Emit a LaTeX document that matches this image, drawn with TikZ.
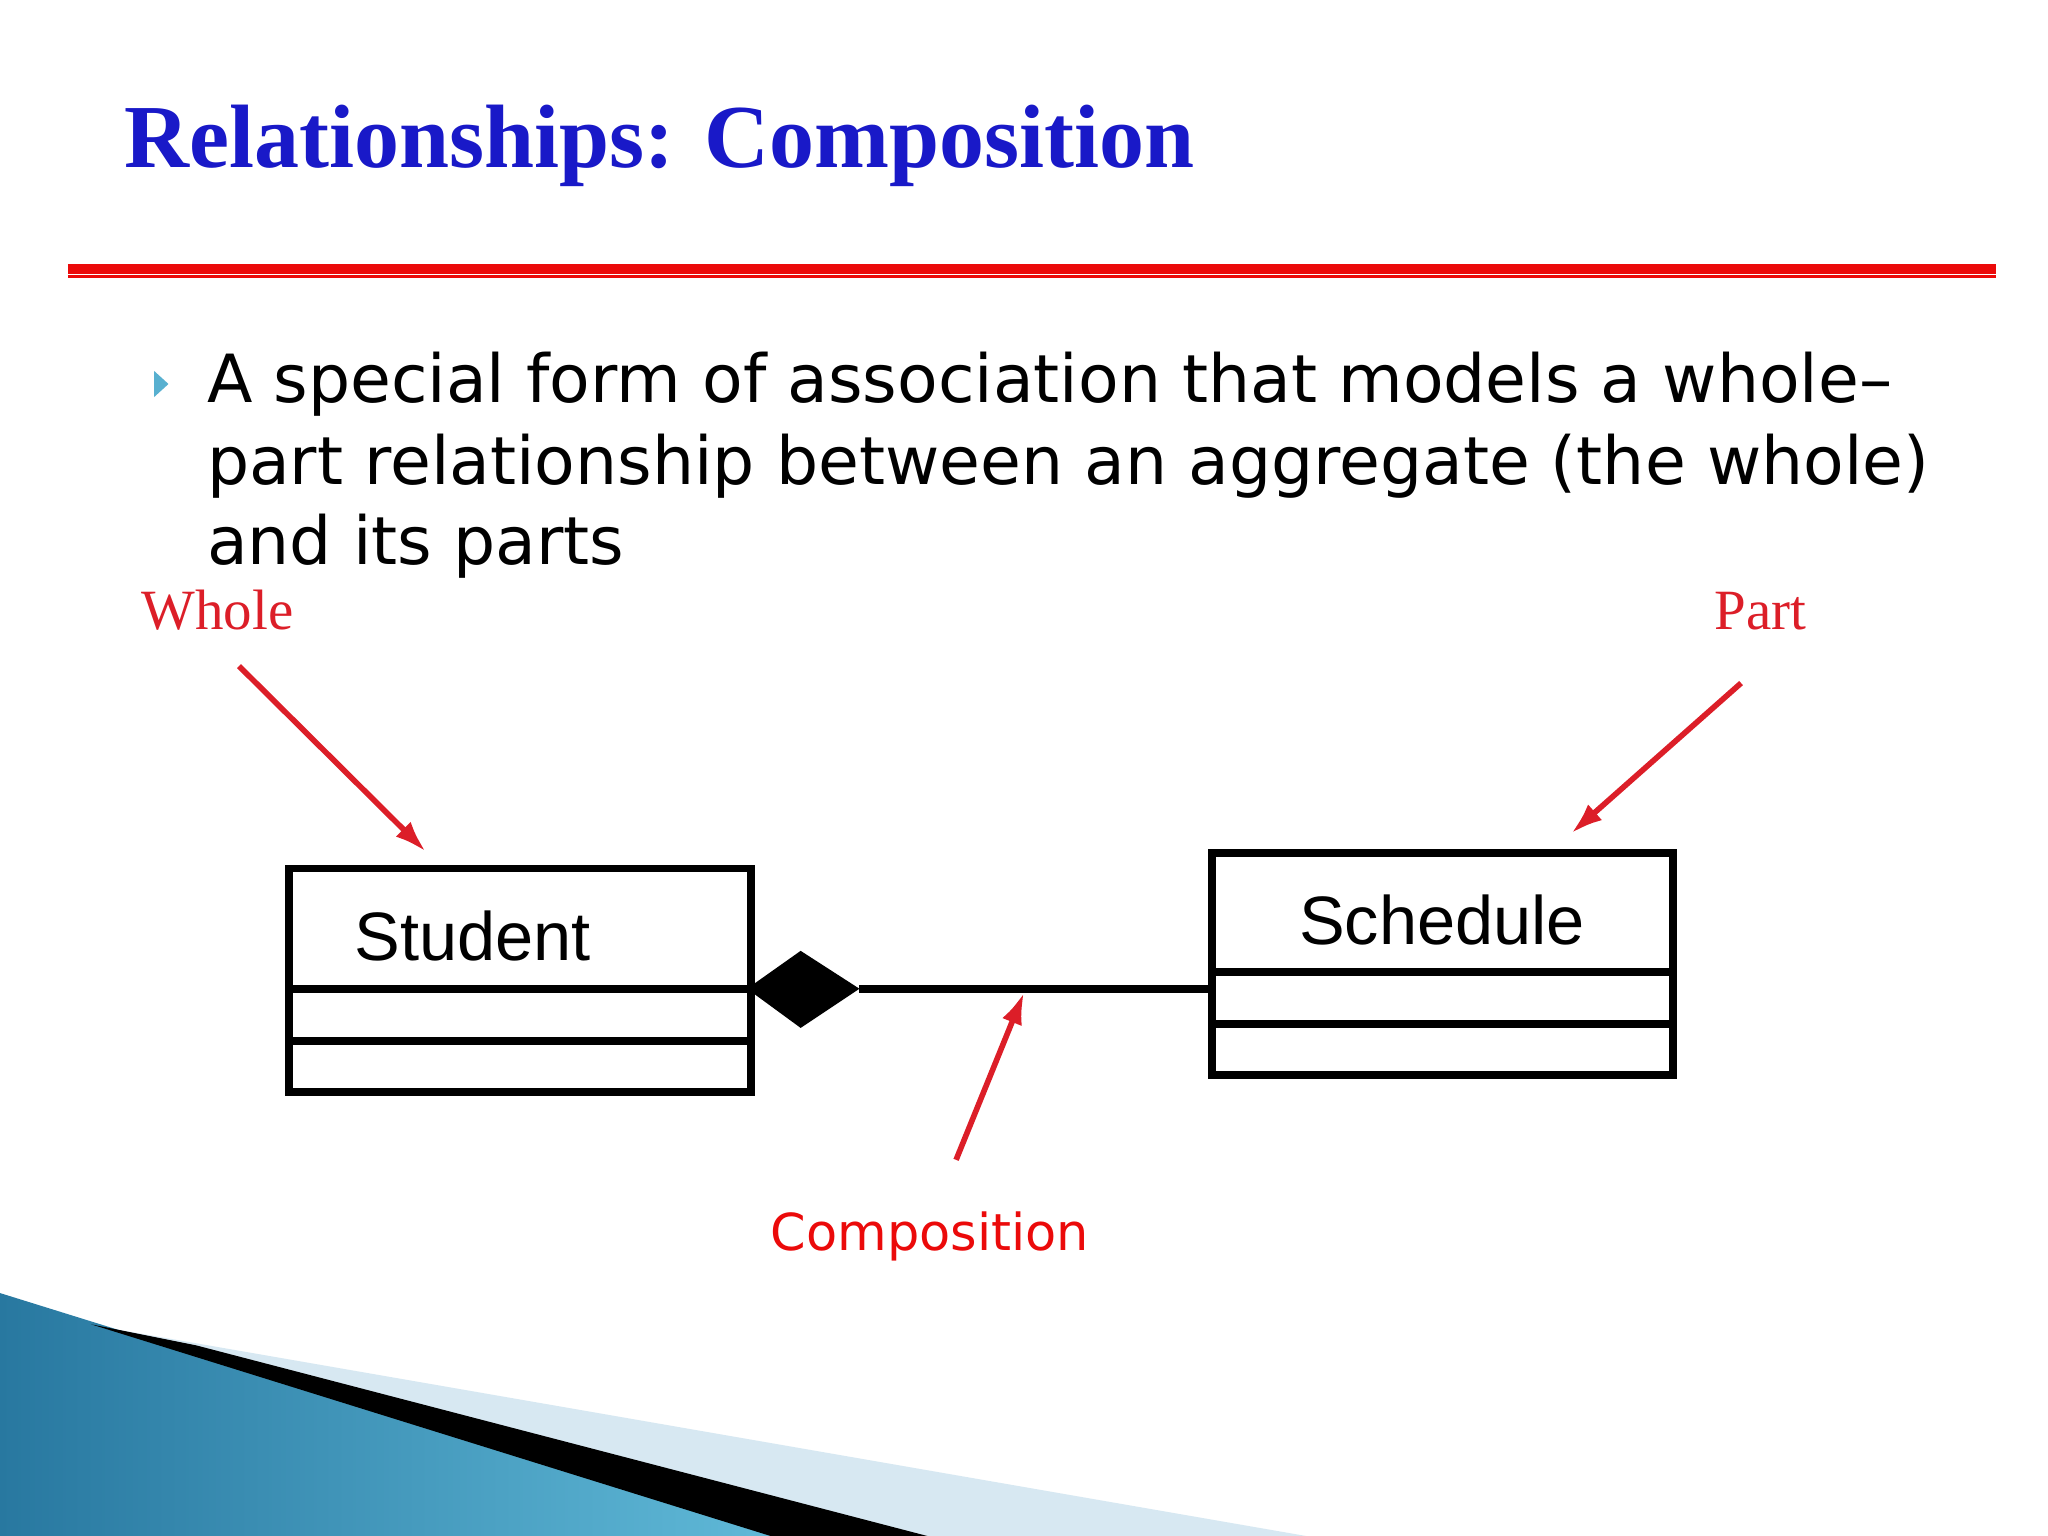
\documentclass[tikz,border=0pt]{standalone}
\usepackage{fontspec}
\setmainfont{Liberation Serif}
\newfontfamily\dvs{DejaVu Sans}
\newfontfamily\lsans{Liberation Sans}
\definecolor{ttl}{RGB}{25,25,200}
\definecolor{rd}{RGB}{220,30,40}
\definecolor{rd2}{RGB}{235,10,10}
\definecolor{tealA}{RGB}{40,120,160}
\definecolor{tealB}{RGB}{100,190,220}
\definecolor{lb}{RGB}{215,232,242}
\begin{document}
\begin{tikzpicture}[x=0.013061cm,y=-0.013061cm,
  box/.style={draw=black,line width=2.2pt},
  redarrow/.style={draw=rd,line width=1.6pt,-{Latex[length=9pt,width=6pt]}},
  lbl/.style={text=rd,inner sep=0pt}]
\usetikzlibrary{arrows.meta}
\useasboundingbox (0,0) rectangle (1568,1176);
\fill[white] (0,0) rectangle (1568,1176);
% bottom decoration
\fill[lb] (90,1018) -- (1000,1176) -- (560,1176) -- cycle;
\shade[left color=tealA,right color=tealB] (0,990) -- (90,1018) -- (640,1176) -- (0,1176) -- cycle;
\fill[black] (70,1014) -- (150,1030) -- (710,1176) -- (590,1176) -- cycle;
% title
\node[anchor=base west,inner sep=0pt,text=ttl,font=\fontsize{25.6}{30}\selectfont\bfseries] (title) at (95,128) {Relationships: Composition};
\draw[rd2,line width=2.8pt] (52,206) -- (1528,206);
\draw[rd2,line width=0.8pt] (52,212) -- (1528,212);
% bullet
\fill[tealB!80!tealA] (118,284) -- (129,294) -- (118,304) -- cycle;
\node[anchor=base west,inner sep=0pt,font=\dvs\fontsize{18.9}{24}\selectfont] (l1) at (158,308) {A special form of association that models a whole–};
\node[anchor=base west,inner sep=0pt,font=\dvs\fontsize{18.9}{24}\selectfont] (l2) at (158,371) {part relationship between an aggregate (the whole)};
\node[anchor=base west,inner sep=0pt,font=\dvs\fontsize{18.9}{24}\selectfont] (l3) at (158,432) {and its parts};
% labels
\node[lbl,anchor=base west,font=\fontsize{16.2}{20}\selectfont] (whole) at (108,482) {Whole};
\node[lbl,anchor=base west,font=\fontsize{16.2}{20}\selectfont] (part) at (1312,482) {Part};
\node[text=rd2,inner sep=0pt,font=\dvs\fontsize{14.5}{18}\selectfont] (comp) at (712,947) {Composition};
% boxes
\draw[box] (221,665) rectangle (575,836);
\draw[box] (221,757) -- (575,757);
\draw[box] (221,797) -- (575,797);
\node[font=\lsans\fontsize{19.5}{24}\selectfont] (stu) at (362,717) {Student};
\draw[box] (928,653) rectangle (1281,823);
\draw[box] (928,744) -- (1281,744);
\draw[box] (928,784) -- (1281,784);
\node[font=\lsans\fontsize{19.5}{24}\selectfont] (sch) at (1104,704) {Schedule};
\coordinate (dl) at (572,757);
\coordinate (dr) at (658,757);
\coordinate (sl) at (928,757);
\fill[black] (dl) -- (613,728) -- (dr) -- (613,787) -- cycle;
\draw[line width=2.2pt] (dr) -- (sl);
% arrows
\coordinate (w1) at (183,510); \coordinate (w2) at (326,652);
\coordinate (p1) at (1333,523); \coordinate (p2) at (1203,638);
\coordinate (c1) at (732,888); \coordinate (c2) at (784,760);
\draw[redarrow] (w1) -- (w2);
\draw[redarrow] (p1) -- (p2);
\draw[redarrow] (c1) -- (c2);
\end{tikzpicture}
\end{document}
